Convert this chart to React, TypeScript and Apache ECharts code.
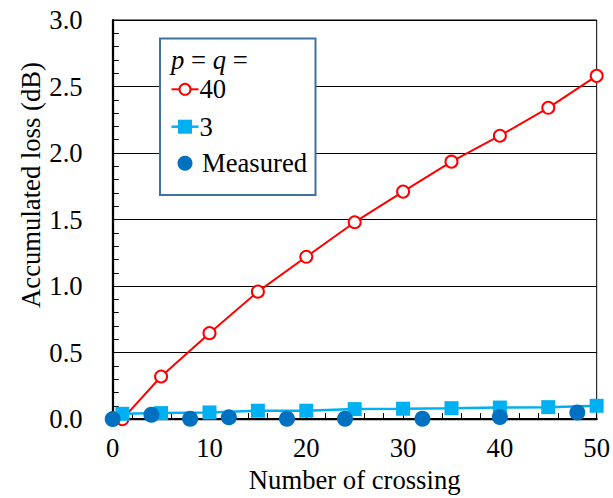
import React, { useEffect, useRef } from "react";
import * as echarts from "echarts";

const crossings40 = [1, 5, 10, 15, 20, 25, 30, 35, 40, 45, 50];
const loss40 = [0.0, 0.32, 0.646, 0.958, 1.22, 1.48, 1.71, 1.935, 2.13, 2.34, 2.58];
const crossings3 = [1, 5, 10, 15, 20, 25, 30, 35, 40, 45, 50];
const loss3 = [0.04, 0.045, 0.05, 0.063, 0.063, 0.075, 0.078, 0.082, 0.087, 0.09, 0.1];
const crossingsMeasured = [0, 4, 8, 12, 18, 24, 32, 40, 48];
const lossMeasured = [0.0, 0.033, 0.003, 0.013, 0.003, 0.003, 0.003, 0.015, 0.05];
const legendNames = ["40", "3", "Measured"];
const xTitle = "Number of crossing";
const yTitle = "Accumulated loss (dB)";

const FONT = "Liberation Serif";
const FS = 26.67;

export default function App() {
  const ref = useRef<HTMLDivElement>(null);
  useEffect(() => {
    if (!ref.current) return;
    const chart = echarts.init(ref.current, null, { renderer: "svg" });
    const zip = (xs: number[], ys: number[]) => xs.map((x, i) => [x, ys[i]]);
    const txt = (text: string, x: number, y: number, extra: any = {}) => ({
      type: "text",
      x,
      y,
      z: 101,
      style: {
        text,
        fontFamily: FONT,
        fontSize: FS,
        fill: "#000",
        verticalAlign: "middle",
        ...extra,
      },
    });
    chart.setOption({
      animation: false,
      backgroundColor: "#ffffff",
      textStyle: { fontFamily: FONT },
      grid: {
        left: 112.7,
        right: 13.7,
        top: 20,
        bottom: 75,
        show: true,
        borderColor: "#000",
        borderWidth: 1,
        backgroundColor: "transparent",
      },
      xAxis: {
        type: "value",
        min: 0,
        max: 50,
        interval: 10,
        name: xTitle,
        nameLocation: "middle",
        nameGap: 40,
        nameTextStyle: { fontFamily: FONT, fontSize: FS, color: "#000" },
        axisLine: { show: true, lineStyle: { color: "#000", width: 2.25 } },
        axisTick: { show: true, inside: true, length: 6, lineStyle: { color: "#000", width: 1 } },
        minorTick: { show: true, splitNumber: 5, length: 6, lineStyle: { color: "#000", width: 1 } },
        splitLine: { show: false },
        axisLabel: { fontFamily: FONT, fontSize: FS, color: "#000", margin: 15 },
      },
      yAxis: {
        type: "value",
        min: 0,
        max: 3,
        interval: 0.5,
        axisLine: { show: true, lineStyle: { color: "#000", width: 2.25 } },
        axisTick: { show: true, inside: true, length: 6, lineStyle: { color: "#000", width: 1 } },
        minorTick: { show: true, splitNumber: 5, length: 6, lineStyle: { color: "#000", width: 1 } },
        splitLine: { show: true, lineStyle: { color: "#000", width: 1 } },
        axisLabel: {
          fontFamily: FONT,
          fontSize: FS,
          color: "#000",
          margin: 30,
          formatter: (v: number) => v.toFixed(1),
        },
      },
      series: [
        {
          name: legendNames[0],
          type: "line",
          data: zip(crossings40, loss40),
          symbol: "circle",
          symbolSize: 12,
          showSymbol: true,
          lineStyle: { color: "#FF0000", width: 2 },
          itemStyle: { color: "#ffffff", borderColor: "#FF0000", borderWidth: 2 },
          z: 2,
        },
        {
          name: legendNames[1],
          type: "line",
          data: zip(crossings3, loss3),
          symbol: "rect",
          symbolSize: 14,
          lineStyle: { color: "#00B0F0", width: 2.5 },
          itemStyle: { color: "#00B0F0" },
          z: 3,
        },
        {
          name: legendNames[2],
          type: "scatter",
          data: zip(crossingsMeasured, lossMeasured),
          symbol: "circle",
          symbolSize: 16,
          itemStyle: { color: "#0070C0", opacity: 1 },
          z: 4,
        },
      ],
      graphic: [
        {
          type: "text",
          x: 31,
          y: 185,
          rotation: Math.PI / 2,
          style: {
            text: yTitle,
            fontFamily: FONT,
            fontSize: FS,
            fill: "#000",
            align: "center",
            verticalAlign: "middle",
          },
        },
        {
          type: "group",
          z: 100,
          children: [
            {
              type: "rect",
              shape: { x: 160, y: 38.5, width: 155.5, height: 156.5 },
              style: { fill: "#fff", stroke: "#41719C", lineWidth: 2 },
              z: 100,
            },
            txt("{i|p} = {i|q} =", 171, 60, {
              rich: { i: { fontStyle: "italic", fontFamily: FONT, fontSize: FS } },
            }),
            {
              type: "line",
              z: 101,
              shape: { x1: 171.5, y1: 89.3, x2: 198.5, y2: 89.3 },
              style: { stroke: "#FF0000", lineWidth: 2 },
            },
            {
              type: "circle",
              z: 102,
              shape: { cx: 185, cy: 89.3, r: 5.5 },
              style: { fill: "#fff", stroke: "#FF0000", lineWidth: 2 },
            },
            txt(legendNames[0], 199.5, 89.3),
            {
              type: "line",
              z: 101,
              shape: { x1: 171.5, y1: 126.7, x2: 198.5, y2: 126.7 },
              style: { stroke: "#00B0F0", lineWidth: 2.5 },
            },
            {
              type: "rect",
              z: 102,
              shape: { x: 178, y: 119.7, width: 14, height: 14 },
              style: { fill: "#00B0F0" },
            },
            txt(legendNames[1], 199.5, 126.7),
            {
              type: "circle",
              z: 102,
              shape: { cx: 185, cy: 163.3, r: 7.5 },
              style: { fill: "#0070C0" },
            },
            txt(legendNames[2], 202, 163.3),
          ],
        },
      ],
    });
    return () => chart.dispose();
  }, []);
  return <div ref={ref} style={{ width: 613, height: 498, position: "absolute", left: 0, top: 0 }} />;
}
